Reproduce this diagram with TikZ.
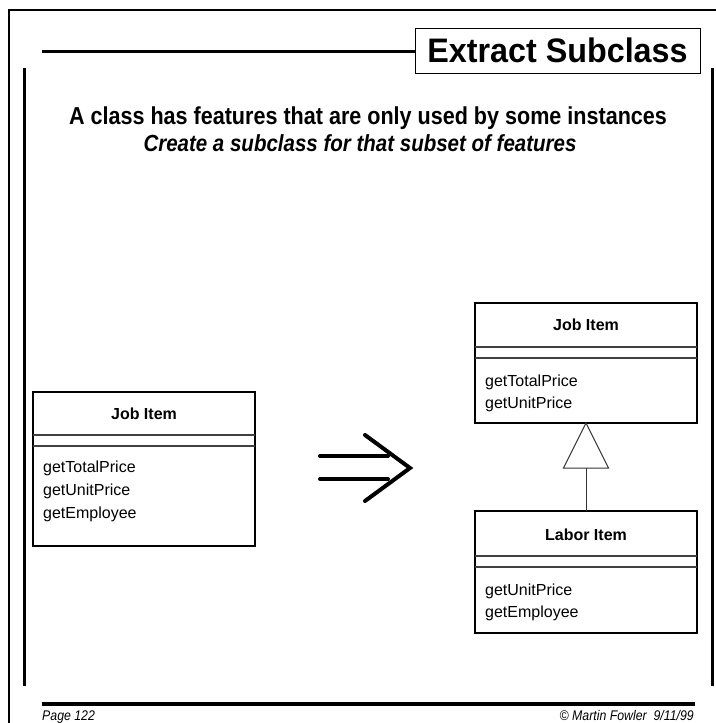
\documentclass[tikz,border=0pt]{standalone}
\usepackage{fontspec}
\setmainfont{Liberation Sans}
\newfontfamily\condfont[FakeStretch=0.88]{Liberation Sans}
\newfontfamily\titlefont[FakeStretch=0.95]{Liberation Sans}
\begin{document}
\begin{tikzpicture}[x=1pt,y=-1pt,
  frame/.style={line width=2pt, black},
  rule/.style={line width=3pt, black},
  classbox/.style={draw=black, line width=1.4pt, minimum width=222pt, inner sep=0pt, outer sep=0pt, anchor=north west},
  sepline/.style={line width=1.3pt, black!75},
  cname/.style={font=\fontsize{16}{16}\selectfont\bfseries, anchor=base, inner sep=0pt},
  cop/.style={font=\fontsize{16}{16}\selectfont, anchor=base west, inner sep=0pt},
  foot/.style={font=\condfont\fontsize{14}{14}\selectfont\itshape, inner sep=0pt},
  subtitle/.style={font=\condfont\fontsize{24.5}{24.5}\selectfont\bfseries, anchor=base, inner sep=0pt},
  bigarrow/.style={line width=4pt, line cap=round, line join=miter}]
\useasboundingbox (0,0) rectangle (715,723);

% page frame
\draw[frame] (9,723) -- (9,10) -- (716,10);
\draw[rule] (24,68) -- (24,686);
\draw[rule] (712,68) -- (712,686);
\draw[line width=4pt] (42,704) -- (695,704);

% title
\node[draw, line width=1pt, minimum width=285pt, minimum height=45pt, inner sep=0pt,
      font=\titlefont\fontsize{34}{34}\selectfont\bfseries] (title) at (557.5,50.5) {Extract Subclass};
\coordinate (titlestart) at (42,51);
\draw[rule] (titlestart) -- (title.west |- titlestart);

% problem and remedy
\node[subtitle] (problem) at (368,124) {A class has features that are only used by some instances};
\node[subtitle, font=\condfont\fontsize{23.3}{23.3}\selectfont\bfseries\itshape] (remedy) at (360,151) {Create a subclass for that subset of features};

% class before the refactoring
\node[classbox, minimum height=154pt] (before) at (33,392) {};
\draw[sepline] ([yshift=-43pt]before.north west) -- ([yshift=-43pt]before.north east);
\draw[sepline] ([yshift=-54pt]before.north west) -- ([yshift=-54pt]before.north east);
\node[cname] (beforename) at (144,419) {Job Item};
\node[cop] (b1) at (43,472) {getTotalPrice};
\node[cop] (b2) at (43,495) {getUnitPrice};
\node[cop] (b3) at (43,518) {getEmployee};

% refactoring arrow
\draw[bigarrow] (320,456) -- (388,456);
\draw[bigarrow] (320,479) -- (388,479);
\draw[bigarrow] (365,435) -- (410,468) -- (365,501);

% superclass after the refactoring
\node[classbox, minimum height=120pt] (super) at (475,303) {};
\draw[sepline] ([yshift=-44pt]super.north west) -- ([yshift=-44pt]super.north east);
\draw[sepline] ([yshift=-55pt]super.north west) -- ([yshift=-55pt]super.north east);
\node[cname] (supername) at (586,330) {Job Item};
\node[cop] (s1) at (485,386) {getTotalPrice};
\node[cop] (s2) at (485,408) {getUnitPrice};

% subclass
\node[classbox, minimum height=122pt] (sub) at (475,511) {};
\draw[sepline] ([yshift=-45pt]sub.north west) -- ([yshift=-45pt]sub.north east);
\draw[sepline] ([yshift=-56pt]sub.north west) -- ([yshift=-56pt]sub.north east);
\node[cname] (subname) at (586,540) {Labor Item};
\node[cop] (u1) at (485,595) {getUnitPrice};
\node[cop] (u2) at (485,617) {getEmployee};

% generalization
\coordinate (tribase) at ([yshift=-45pt]super.south);
\draw[line width=1pt, black!80] (super.south) -- ([xshift=22.5pt]tribase) -- ([xshift=-22.5pt]tribase) -- cycle;
\draw[line width=1pt, black!80] (sub.north) -- (tribase);

% footer
\node[foot, anchor=base west] (page) at (42,720) {Page 122};
\node[foot, anchor=base east] (author) at (694,720) {© Martin Fowler\ \ 9/11/99};
\end{tikzpicture}
\end{document}
